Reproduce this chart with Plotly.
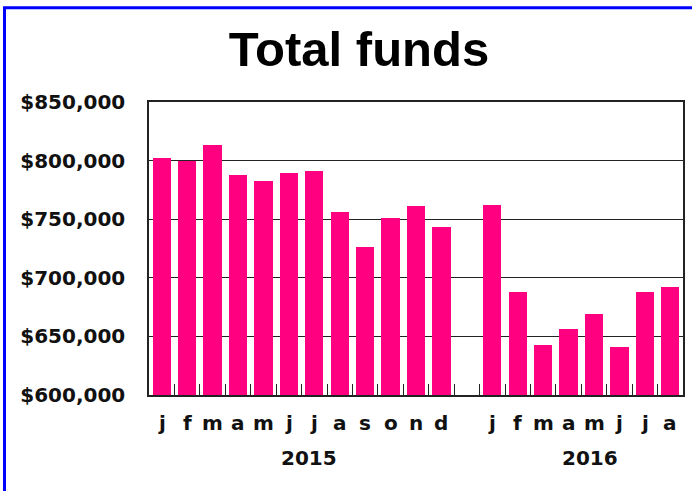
import plotly.graph_objects as go

months_2015 = ["j", "f", "m", "a", "m", "j", "j", "a", "s", "o", "n", "d"]
values_2015 = [802000, 800000, 813000, 787500, 782500, 789000, 791500, 756000, 726500, 751000, 761000, 743000]
months_2016 = ["j", "f", "m", "a", "m", "j", "j", "a"]
values_2016 = [762000, 688000, 642500, 656000, 669000, 641000, 688000, 692000]
years = ["2015", "2016"]
y_ticks = [600000, 650000, 700000, 750000, 800000, 850000]

# positions: 2015 at 0..11, gap at 12, 2016 at 13..20
x_2015 = list(range(len(months_2015)))
x_2016 = [len(months_2015) + 1 + i for i in range(len(months_2016))]
xs = x_2015 + x_2016
vals = values_2015 + values_2016
labels = months_2015 + months_2016

W, H = 692, 491
L, R, T, B = 149, 9, 102, 96
pw, ph = W - L - R, H - T - B

fig = go.Figure()
fig.add_trace(go.Bar(x=xs, y=vals, width=0.72, marker=dict(color="#FF0080", line=dict(width=0)),
                     hoverinfo="x+y"))

boundaries = [i + 0.5 for i in range(0, 20)]

fig.update_layout(
    width=W, height=H,
    margin=dict(l=L, r=R, t=T, b=B, pad=0, autoexpand=False),
    paper_bgcolor="white", plot_bgcolor="white",
    showlegend=False,
    bargap=0,
    title=dict(text="<b>Total funds</b>", x=359 / W, xref="container", xanchor="center",
               y=1 - 49 / H, yref="container", yanchor="middle",
               font=dict(family="Liberation Sans", size=49, color="black")),
    xaxis=dict(range=[-0.5, 20.5], tickmode="array", tickvals=boundaries,
               ticktext=[""] * len(boundaries), ticks="inside", ticklen=11,
               tickcolor="#222", tickwidth=1.2, showgrid=False, zeroline=False,
               showline=True, linecolor="#222", linewidth=1.5, mirror=True,
               automargin=False, fixedrange=True),
    yaxis=dict(range=[600000, 850000], tickmode="array", tickvals=y_ticks,
               ticktext=["<b>$" + f"{v:,}" + "</b>" for v in y_ticks], ticks="",
               tickfont=dict(family="DejaVu Sans", size=20, color="#111"),
               showgrid=True, gridcolor="#222", gridwidth=1.2, zeroline=False,
               showline=True, linecolor="#222", linewidth=1.5, mirror=True,
               automargin=False, ticklabelstandoff=18),
)

# month labels
for x, lab in zip(xs, labels):
    fig.add_annotation(x=x, y=-(422.5 - (T + ph)) / ph, xref="x", yref="paper",
                       text="<b>" + lab + "</b>", showarrow=False, yanchor="middle",
                       font=dict(family="DejaVu Sans", size=20, color="#111"))

# year labels
year_centers = [5.8, 16.85]
for x, yr in zip(year_centers, years):
    fig.add_annotation(x=x, y=-(458 - (T + ph)) / ph, xref="x", yref="paper",
                       text="<b>" + yr + "</b>", showarrow=False, yanchor="middle",
                       font=dict(family="DejaVu Sans", size=20, color="#111"))

# blue frame (top and left edges)
bx = (4.5 - L) / pw
by = (T + ph - 7.75) / ph
fig.add_shape(type="path", xref="paper", yref="paper",
              path=f"M {bx} -1 L {bx} {by} L 1.2 {by}",
              line=dict(color="#0000FF", width=3))

fig.write_html("out.html", config={"displayModeBar": False},
               post_script="document.body.style.margin='0';")
